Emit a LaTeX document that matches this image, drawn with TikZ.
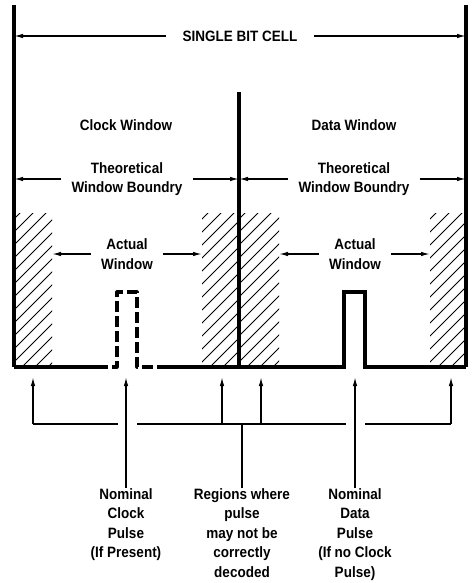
\documentclass[tikz,border=0pt]{standalone}
\usepackage{fontspec}
\setmainfont[FakeStretch=0.9]{Liberation Sans}
\usetikzlibrary{arrows.meta}

\tikzset{
  wall/.style={line width=3.2pt},
  dim/.style={line width=1.3pt, -{Latex[length=9pt,width=4.5pt]}},
  leg/.style={line width=1.3pt},
  lbl/.style={font=\bfseries\fontsize{15}{19.5}\selectfont, align=center, inner ysep=0pt, inner xsep=10pt},
  hatch/.style={line width=0.8pt},
}

% hatched strip between x=#1 and x=#2
\newcommand\hatchbox[2]{%
  \begin{scope}
    \clip (#1,213) rectangle (#2,367);
    \foreach \s in {0,13,...,390}
      \draw[hatch] (#1-200+\s,367) -- ++(200,-200);
  \end{scope}}

\begin{document}
\begin{tikzpicture}[x=1pt,y=-1pt]
  \useasboundingbox (0,0) rectangle (475,583);

  % walls
  \draw[wall] (14,5) -- (14,367);
  \draw[wall] (466,5) -- (466,367);
  \draw[wall] (239,92) -- (239,367);

  % hatched regions
  \hatchbox{14}{52}
  \hatchbox{202}{239}
  \hatchbox{239}{279}
  \hatchbox{430}{466}

  % baseline with pulses
  \draw[wall] (14,367) -- (97,367);
  \draw[wall, dash pattern=on 11pt off 4pt, line join=round] (97,367) -- (117,367) -- (117,292) -- (137,292) -- (137,367) -- (160,367);
  \draw[wall] (160,367) -- (344,367) -- (344,292) -- (365,292) -- (365,367) -- (466,367);

  % points the arrows run to
  \coordinate (cellL) at (14,36);
  \coordinate (cellR) at (466,36);
  \coordinate (thcL) at (14,179);
  \coordinate (thcR) at (239,179);
  \coordinate (thdL) at (239,179);
  \coordinate (thdR) at (466,179);
  \coordinate (acL) at (52,254);
  \coordinate (acR) at (202,254);
  \coordinate (adL) at (279,254);
  \coordinate (adR) at (430,254);

  % labels
  \node[lbl, inner xsep=16pt] (cell) at (240,36) {SINGLE BIT CELL};
  \node[lbl] (clkwin) at (126,125) {Clock Window};
  \node[lbl] (datwin) at (354,125) {Data Window};
  \node[lbl] (thc) at (127,179) {Theoretical\\Window Boundry};
  \node[lbl] (thd) at (354,179) {Theoretical\\Window Boundry};
  \node[lbl] (actc) at (127,254) {Actual\\Window};
  \node[lbl] (actd) at (355,254) {Actual\\Window};

  \draw[dim] (cell.west) -- (cellL);
  \draw[dim] (cell.east) -- (cellR);
  \draw[dim] (thc.west) -- (thcL);
  \draw[dim] (thc.east) -- (thcR);
  \draw[dim] (thd.west) -- (thdL);
  \draw[dim] (thd.east) -- (thdR);
  \draw[dim] (actc.west) -- (acL);
  \draw[dim] (actc.east) -- (acR);
  \draw[dim] (actd.west) -- (adL);
  \draw[dim] (actd.east) -- (adR);

  % bottom notes
  \node[lbl, anchor=north] (nclk) at (126,488) {Nominal\\Clock\\Pulse\\(If Present)};
  \node[lbl, anchor=north] (regs) at (242,488) {Regions where\\pulse\\may not be\\correctly\\decoded};
  \node[lbl, anchor=north] (ndat) at (355,488) {Nominal\\Data\\Pulse\\(If no Clock\\Pulse)};

  \coordinate (tclk) at (126,377);
  \coordinate (tdat) at (355,377);
  \coordinate (hub) at (242,424);
  \coordinate (b1) at (33,424);   \coordinate (t1) at (33,377);
  \coordinate (b3) at (222,424);  \coordinate (t3) at (222,377);
  \coordinate (b4) at (261,424);  \coordinate (t4) at (261,377);
  \coordinate (b6) at (451,424);  \coordinate (t6) at (451,377);

  \draw[dim] (nclk.north) -- (tclk);
  \draw[dim] (ndat.north) -- (tdat);
  \draw[leg] (regs.north) -- (hub);
  \draw[leg] (b1) -- (118,424);
  \draw[leg] (137,424) -- (346,424);
  \draw[leg] (365,424) -- (b6);
  \draw[dim] (b1) -- (t1);
  \draw[dim] (b3) -- (t3);
  \draw[dim] (b4) -- (t4);
  \draw[dim] (b6) -- (t6);
\end{tikzpicture}
\end{document}
